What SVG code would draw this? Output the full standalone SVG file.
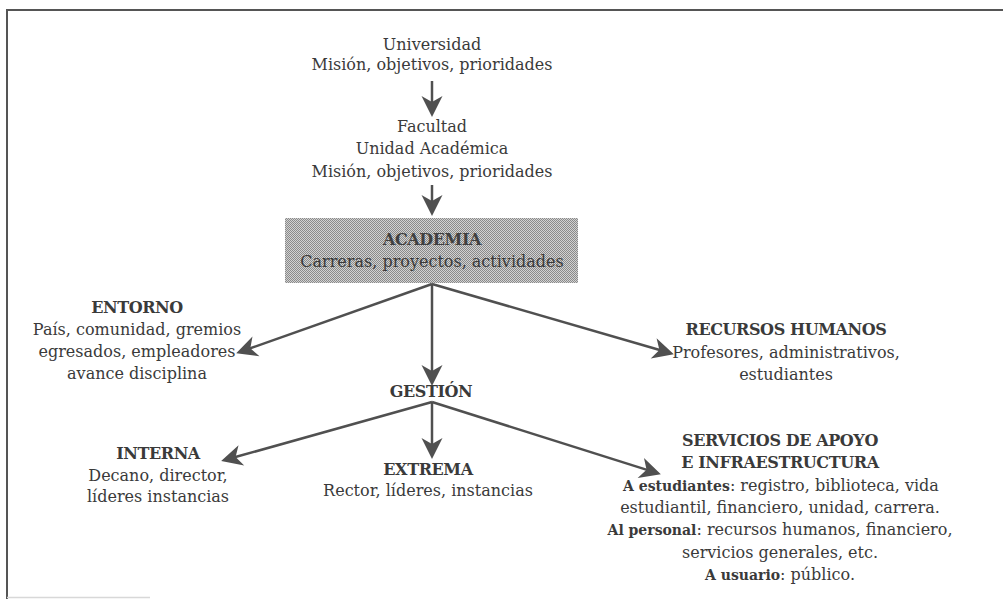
<svg xmlns="http://www.w3.org/2000/svg" width="1003" height="599" viewBox="0 0 1003 599">
<style>
text{font-family:"DejaVu Serif","Liberation Serif",serif;font-size:16px;fill:#3a3a3a;text-anchor:middle}
.b{font-weight:bold;letter-spacing:-0.4px}
.bi{font-weight:bold;font-size:14px}
.c{stroke:#505050;stroke-width:2.5;fill:none;marker-end:url(#ah)}
.frame{stroke:#555;stroke-width:2;fill:none}
</style>
<defs>
<marker id="ah" markerUnits="userSpaceOnUse" markerWidth="30" markerHeight="30" viewBox="-10 -10 20 20" refX="0" refY="0" orient="auto">
<path d="M8,0 L-6,-7 L-2,0 L-6,7 Z" fill="#505050"/>
</marker>
<pattern id="chk" width="2" height="2" patternUnits="userSpaceOnUse">
<rect width="2" height="2" fill="#d2d2d2"/>
<rect width="1" height="1" fill="#8a8a8a"/>
<rect x="1" y="1" width="1" height="1" fill="#8a8a8a"/>
</pattern>
</defs>
<rect width="1003" height="599" fill="#fff"/>
<path class="frame" d="M7,599 V10 H1003"/>
<line x1="7" y1="597.5" x2="150" y2="597.5" stroke="#d8d8d8" stroke-width="1.5"/>
<g id="universidad">
<text x="432" y="50">Universidad</text>
<text x="432" y="70">Misión, objetivos, prioridades</text>
</g>
<g id="facultad">
<text x="432" y="132">Facultad</text>
<text x="432" y="154">Unidad Académica</text>
<text x="432" y="177">Misión, objetivos, prioridades</text>
</g>
<g id="academia">
<rect x="285" y="218" width="293" height="65" fill="url(#chk)"/>
<text x="432" y="245" class="b" style="fill:#404040">ACADEMIA</text>
<text x="432" y="267">Carreras, proyectos, actividades</text>
</g>
<g id="entorno">
<text x="137" y="313" class="b">ENTORNO</text>
<text x="137" y="335">País, comunidad, gremios</text>
<text x="137" y="357">egresados, empleadores</text>
<text x="137" y="379">avance disciplina</text>
</g>
<g id="rrhh">
<text x="786" y="335" class="b">RECURSOS HUMANOS</text>
<text x="786" y="358">Profesores, administrativos,</text>
<text x="786" y="380">estudiantes</text>
</g>
<g id="gestion">
<text x="431" y="397" class="b">GESTIÓN</text>
</g>
<g id="interna">
<text x="158" y="459" class="b">INTERNA</text>
<text x="158" y="481">Decano, director,</text>
<text x="158" y="502">líderes instancias</text>
</g>
<g id="extrema">
<text x="428" y="475" class="b">EXTREMA</text>
<text x="428" y="496">Rector, líderes, instancias</text>
</g>
<g id="servicios">
<text x="780" y="446" class="b">SERVICIOS DE APOYO</text>
<text x="780" y="468" class="b">E INFRAESTRUCTURA</text>
<text x="781" y="491"><tspan class="bi">A estudiantes</tspan>: registro, biblioteca, vida</text>
<text x="780" y="513">estudiantil, financiero, unidad, carrera.</text>
<text x="780" y="535"><tspan class="bi">Al personal</tspan>: recursos humanos, financiero,</text>
<text x="780" y="558">servicios generales, etc.</text>
<text x="780" y="580"><tspan class="bi">A usuario</tspan>: público.</text>
</g>
<g id="connectors">
<line class="c" x1="432" y1="81" x2="432" y2="105"/>
<line class="c" x1="432" y1="185" x2="432" y2="204"/>
<line class="c" x1="432" y1="284" x2="247.5" y2="349.3"/>
<line class="c" x1="432" y1="284" x2="432" y2="374"/>
<line class="c" x1="432" y1="284" x2="662.3" y2="350.8"/>
<line class="c" x1="432" y1="402" x2="232.7" y2="457.8"/>
<line class="c" x1="432" y1="402" x2="432" y2="447"/>
<line class="c" x1="432" y1="402" x2="649.4" y2="470.6"/>
</g>
</svg>
